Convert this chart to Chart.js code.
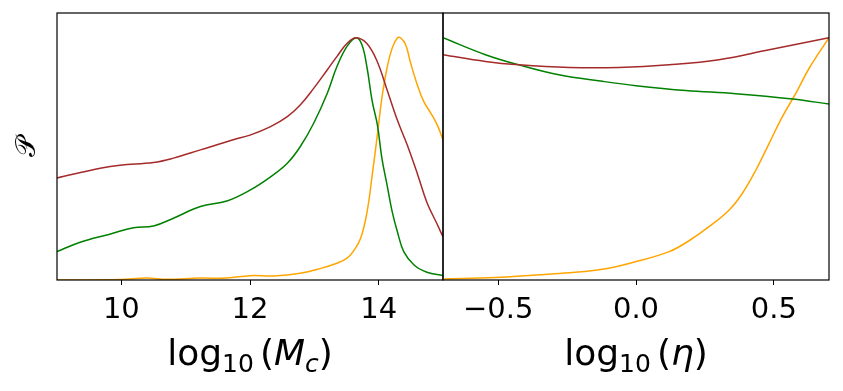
<!DOCTYPE html>
<html>
<head>
<meta charset="utf-8">
<script src="https://cdn.jsdelivr.net/npm/chart.js@4.4.1/dist/chart.umd.min.js"></script>
<style>
  html, body { margin: 0; padding: 0; background: #fff; }
  #wrap { position: relative; width: 843px; height: 391px; overflow: hidden; background: #fff; }
  canvas { position: absolute; top: 0; }
  #massChart { left: 0; }
  #etaChart { left: 440px; }
</style>
</head>
<body>
<div id="wrap">
  <canvas id="massChart" width="446" height="391"></canvas>
  <canvas id="etaChart" width="403" height="391"></canvas>
</div>
<script>
// ---- left panel: log10(M_c) ----
const mcTicks = [10, 12, 14];
const mcTickLabels = ['10', '12', '14'];

const mcBrownX = [9.0, 9.67, 9.98, 10.5, 10.81, 11.23, 11.74, 12.0, 12.32, 12.58, 12.78, 12.99, 13.2, 13.35, 13.51, 13.65, 13.82, 13.98, 14.13, 14.29, 14.44, 14.6, 14.75, 14.91, 15.0];
const mcBrownY = [0.421, 0.461, 0.474, 0.485, 0.503, 0.537, 0.579, 0.598, 0.633, 0.674, 0.722, 0.791, 0.867, 0.922, 0.977, 1.0, 0.975, 0.90, 0.785, 0.66, 0.56, 0.44, 0.32, 0.23, 0.178];

const mcGreenX = [9.0, 9.36, 9.82, 10.19, 10.5, 10.81, 11.23, 11.64, 12.0, 12.32, 12.58, 12.78, 12.99, 13.2, 13.35, 13.51, 13.65, 13.74, 13.82, 13.9, 13.98, 14.05, 14.13, 14.21, 14.29, 14.39, 14.55, 14.75, 15.0];
const mcGreenY = [0.117, 0.156, 0.189, 0.216, 0.223, 0.255, 0.303, 0.326, 0.371, 0.426, 0.482, 0.55, 0.647, 0.77, 0.88, 0.965, 1.0, 0.971, 0.875, 0.737, 0.64, 0.503, 0.393, 0.282, 0.2, 0.117, 0.062, 0.032, 0.018];

const mcOrangeX = [9.0, 9.98, 10.4, 10.71, 11.23, 11.64, 12.0, 12.37, 12.78, 13.09, 13.35, 13.51, 13.61, 13.72, 13.82, 13.9, 13.98, 14.05, 14.13, 14.21, 14.29, 14.34, 14.42, 14.49, 14.6, 14.7, 14.81, 14.91, 15.0];
const mcOrangeY = [0.0, 0.002, 0.008, 0.003, 0.008, 0.008, 0.018, 0.017, 0.028, 0.047, 0.069, 0.09, 0.12, 0.172, 0.282, 0.434, 0.599, 0.751, 0.875, 0.957, 0.999, 1.0, 0.971, 0.902, 0.806, 0.737, 0.689, 0.64, 0.579];

// ---- right panel: log10(eta) ----
const etaTicks = [-0.5, 0.0, 0.5];
const etaTickLabels = ['\u22120.5', '0.0', '0.5'];

const etaBrownX = [-0.7, -0.546, -0.425, -0.243, -0.062, 0.12, 0.301, 0.483, 0.7];
const etaBrownY = [0.93, 0.902, 0.888, 0.877, 0.877, 0.888, 0.909, 0.95, 1.0];

const etaGreenX = [-0.7, -0.546, -0.425, -0.28, -0.122, 0.0, 0.18, 0.362, 0.568, 0.7];
const etaGreenY = [1.0, 0.93, 0.888, 0.847, 0.82, 0.802, 0.782, 0.769, 0.747, 0.726];

const etaOrangeX = [-0.7, -0.51, -0.364, -0.243, -0.122, 0.0, 0.12, 0.192, 0.265, 0.338, 0.386, 0.435, 0.483, 0.531, 0.58, 0.628, 0.7];
const etaOrangeY = [0.004, 0.01, 0.021, 0.03, 0.044, 0.076, 0.117, 0.162, 0.22, 0.289, 0.358, 0.454, 0.564, 0.674, 0.771, 0.874, 1.0];

const COLORS = { brown: '#a52a2a', green: '#008000', orange: '#ffa500' };
const FONT = '"DejaVu Sans", sans-serif';

function points(xs, ys) {
    return xs.map((x, i) => ({ x: x, y: ys[i] }));
}

function line(xs, ys, color) {
    return {
        data: points(xs, ys),
        borderColor: color,
        borderWidth: 1.5,
        pointRadius: 0,
        fill: false,
        tension: 0.4
    };
}

// draws a label made of pieces (normal, subscript, italic)
function drawPieces(ctx, parts, cx, baseY) {
    let total = 0;
    parts.forEach(p => {
        ctx.font = p.font;
        p.w = ctx.measureText(p.text).width + (p.gap || 0);
        total += p.w;
    });
    let x = cx - total / 2;
    ctx.fillStyle = '#000';
    ctx.textAlign = 'left';
    ctx.textBaseline = 'alphabetic';
    parts.forEach(p => {
        ctx.font = p.font;
        ctx.fillText(p.text, x, baseY + (p.dy || 0));
        x += p.w;
    });
}

function axisLabel(symbol, italicSub) {
    const parts = [
        { text: 'log', font: '36px ' + FONT },
        { text: '10', font: '25px ' + FONT, dy: 7, gap: 6 },
        { text: '(', font: '36px ' + FONT },
        { text: symbol, font: 'italic 36px ' + FONT }
    ];
    if (italicSub) parts.push({ text: italicSub, font: 'italic 25px ' + FONT, dy: 7 });
    parts.push({ text: ')', font: '36px ' + FONT });
    return parts;
}

function framePlugin(label, showY) {
    return {
        id: 'frame',
        afterDraw(chart) {
            const { ctx, chartArea } = chart;
            ctx.save();
            ctx.strokeStyle = '#000';
            ctx.lineWidth = 1.2;
            ctx.strokeRect(chartArea.left, chartArea.top, chartArea.right - chartArea.left, chartArea.bottom - chartArea.top);
            drawPieces(ctx, label, (chartArea.left + chartArea.right) / 2, 365);
            if (showY) {
                ctx.translate(28, (chartArea.top + chartArea.bottom) / 2);
                ctx.rotate(-Math.PI / 2);
                ctx.font = '28px "DejaVu Serif", serif';
                ctx.textAlign = 'center';
                ctx.textBaseline = 'middle';
                ctx.fillStyle = '#000';
                ctx.fillText('\uD835\uDCAB', 0, 0);
            }
            ctx.restore();
        }
    };
}

function xScale(min, max, ticks, labels) {
    return {
        type: 'linear',
        min: min,
        max: max,
        afterBuildTicks: s => { s.ticks = ticks.map(v => ({ value: v })); },
        afterFit: s => { s.height = 111; },
        grid: { display: true, drawOnChartArea: false, drawTicks: true, tickLength: 5, tickColor: '#000', tickWidth: 1 },
        border: { display: false },
        ticks: {
            autoSkip: false,
            maxRotation: 0,
            padding: 8,
            color: '#000',
            font: { family: 'DejaVu Sans', size: 29 },
            callback: v => labels[ticks.indexOf(v)]
        }
    };
}

const yScale = { type: 'linear', min: 0, max: 1.102, display: false };

new Chart(document.getElementById('massChart'), {
    type: 'line',
    data: {
        datasets: [
            line(mcBrownX, mcBrownY, COLORS.brown),
            line(mcGreenX, mcGreenY, COLORS.green),
            line(mcOrangeX, mcOrangeY, COLORS.orange)
        ]
    },
    options: {
        responsive: false,
        animation: false,
        layout: { padding: { left: 57, right: 3, top: 13, bottom: 0 } },
        plugins: { legend: { display: false }, tooltip: { enabled: false } },
        scales: { x: xScale(9, 15, mcTicks, mcTickLabels), y: yScale }
    },
    plugins: [framePlugin(axisLabel('M', 'c'), true)]
});

new Chart(document.getElementById('etaChart'), {
    type: 'line',
    data: {
        datasets: [
            line(etaBrownX, etaBrownY, COLORS.brown),
            line(etaGreenX, etaGreenY, COLORS.green),
            line(etaOrangeX, etaOrangeY, COLORS.orange)
        ]
    },
    options: {
        responsive: false,
        animation: false,
        layout: { padding: { left: 3, right: 14, top: 13, bottom: 0 } },
        plugins: { legend: { display: false }, tooltip: { enabled: false } },
        scales: { x: xScale(-0.7, 0.7, etaTicks, etaTickLabels), y: yScale }
    },
    plugins: [framePlugin(axisLabel('\u03b7', null), false)]
});
</script>
</body>
</html>
